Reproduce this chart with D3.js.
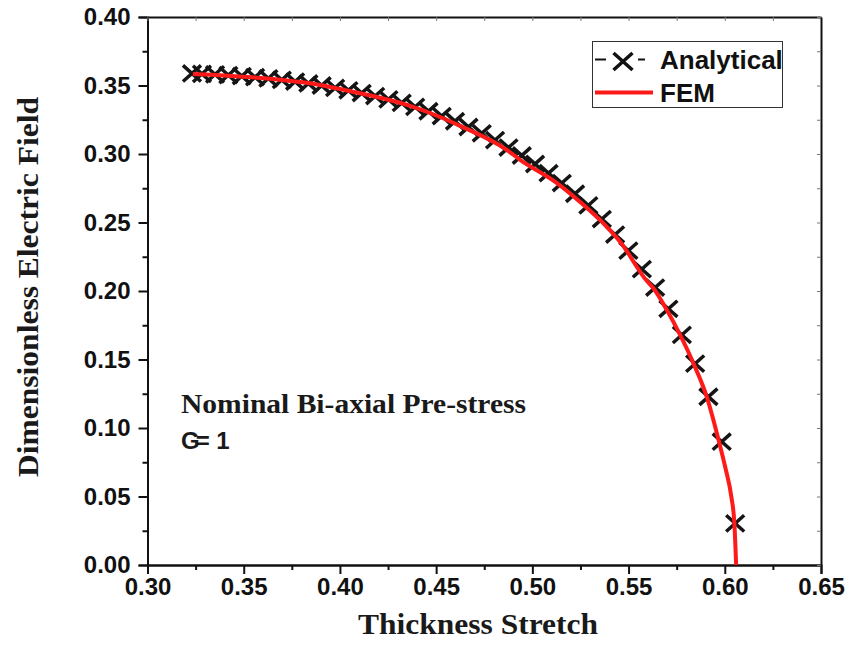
<!DOCTYPE html>
<html>
<head>
<meta charset="utf-8">
<script src="https://cdn.jsdelivr.net/npm/d3@7"></script>
<style>
  html, body { margin: 0; padding: 0; background: #fff; }
  #chart { width: 850px; height: 646px; }
  .tick text { font-family: "Liberation Sans", Arial, sans-serif; font-weight: bold; fill: #111; }
</style>
</head>
<body>
<div id="chart"></div>
<script>
// tick values
const xTickValues = [0.30, 0.35, 0.40, 0.45, 0.50, 0.55, 0.60, 0.65];
const yTickValues = [0.00, 0.05, 0.10, 0.15, 0.20, 0.25, 0.30, 0.35, 0.40];
const xMinorValues = [0.325, 0.375, 0.425, 0.475, 0.525, 0.575, 0.625];
const yMinorValues = [0.025, 0.075, 0.125, 0.175, 0.225, 0.275, 0.325, 0.375];

// Analytical (X markers)
const analyticalStretch = [
  0.3231, 0.3283, 0.3351, 0.3420, 0.3490, 0.3559, 0.3628, 0.3698, 0.3767, 0.3836,
  0.3905, 0.3975, 0.4044, 0.4113, 0.4183, 0.4252, 0.4321, 0.4391, 0.4460, 0.4529,
  0.4598, 0.4668, 0.4737, 0.4806, 0.4876, 0.4945, 0.5014, 0.5084, 0.5153, 0.5222,
  0.5291, 0.5361, 0.5430, 0.5499, 0.5569, 0.5638, 0.5707, 0.5777, 0.5846, 0.5915,
  0.5984, 0.6054
];
const analyticalField = [
  0.3588, 0.3585, 0.3581, 0.3576, 0.3569, 0.3561, 0.3552, 0.3541, 0.3529, 0.3515,
  0.3500, 0.3483, 0.3465, 0.3445, 0.3423, 0.3399, 0.3373, 0.3344, 0.3312, 0.3277,
  0.3239, 0.3197, 0.3151, 0.3101, 0.3047, 0.2989, 0.2927, 0.2860, 0.2788, 0.2710,
  0.2625, 0.2525, 0.2412, 0.2295, 0.2160, 0.2025, 0.1870, 0.1680, 0.1470, 0.1228,
  0.0900, 0.0304
];

// FEM (red line)
const femStretch = [
  0.3236, 0.3652, 0.3896, 0.4000, 0.4349, 0.4520, 0.4624, 0.4868, 0.4936, 0.5128,
  0.5248, 0.5388, 0.5456, 0.5591, 0.5629, 0.5699, 0.5768, 0.5837, 0.5906, 0.5970,
  0.6003, 0.6034, 0.6050, 0.6059
];
const femField = [
  0.3584, 0.3547, 0.3504, 0.3474, 0.3358, 0.3270, 0.3205, 0.3029, 0.2958, 0.2788,
  0.2650, 0.2467, 0.2360, 0.2080, 0.2020, 0.1861, 0.1679, 0.1472, 0.1229, 0.0900,
  0.0710, 0.0499, 0.0300, 0.0000
];

const width = 850, height = 646;
const margin = { top: 17, right: 29, bottom: 81, left: 147.5 };
const innerWidth = width - margin.left - margin.right;
const innerHeight = height - margin.top - margin.bottom;

const svg = d3.select("#chart").append("svg")
  .attr("width", width).attr("height", height)
  .style("background", "#fff");

const chartArea = svg.append("g").attr("transform", `translate(${margin.left},${margin.top})`);

const x = d3.scaleLinear().domain([0.30, 0.65]).range([0, innerWidth]);
const y = d3.scaleLinear().domain([0, 0.40]).range([innerHeight, 0]);

const fmt = d3.format(".2f");

// bottom axis
const xAxisG = chartArea.append("g").attr("transform", `translate(0,${innerHeight})`)
  .call(d3.axisBottom(x).tickValues(xTickValues).tickFormat(fmt).tickSize(9).tickPadding(4));
chartArea.append("g").attr("transform", `translate(0,${innerHeight})`)
  .call(d3.axisBottom(x).tickValues(xMinorValues).tickFormat("").tickSize(5).tickSizeOuter(0));

// left axis
const yAxisG = chartArea.append("g")
  .call(d3.axisLeft(y).tickValues(yTickValues).tickFormat(fmt).tickSize(9).tickPadding(8));
chartArea.append("g")
  .call(d3.axisLeft(y).tickValues(yMinorValues).tickFormat("").tickSize(5).tickSizeOuter(0));

// top and right axes, small inner ticks
const topAxis = chartArea.append("g")
  .call(d3.axisBottom(x).tickValues(xTickValues.concat(xMinorValues)).tickFormat("").tickSize(4).tickSizeOuter(0));
const rightAxis = chartArea.append("g").attr("transform", `translate(${innerWidth},0)`)
  .call(d3.axisLeft(y).tickValues(yTickValues.concat(yMinorValues)).tickFormat("").tickSize(4).tickSizeOuter(0));
topAxis.selectAll(".tick line").attr("stroke", "#777").attr("stroke-width", 1);
rightAxis.selectAll(".tick line").attr("stroke", "#777").attr("stroke-width", 1);

chartArea.selectAll(".domain").attr("stroke", "#111").attr("stroke-width", 2);
chartArea.selectAll("g > .tick line").filter(function () { return !this.getAttribute("stroke") || this.getAttribute("stroke") === "currentColor"; })
  .attr("stroke", "#111").attr("stroke-width", 2);
xAxisG.selectAll(".tick text").style("font-size", "24px");
yAxisG.selectAll(".tick text").style("font-size", "24px");

// Analytical X markers
const xMark = (cx, cy, r) => `M${cx - r},${cy - r * 0.9}L${cx + r},${cy + r * 0.9}M${cx - r},${cy + r * 0.9}L${cx + r},${cy - r * 0.9}`;
chartArea.selectAll(".mark").data(analyticalStretch).enter().append("path")
  .attr("class", "mark")
  .attr("d", (s, i) => xMark(x(s), y(analyticalField[i]), 9))
  .attr("fill", "none")
  .attr("stroke", "#151515")
  .attr("stroke-width", 3.5);

// FEM curve, drawn over the markers
const femData = femStretch.map((s, i) => ({ s, e: femField[i] }));
chartArea.append("path").datum(femData)
  .attr("fill", "none")
  .attr("stroke", "#ff1a1a")
  .attr("stroke-width", 4)
  .attr("d", d3.line().x(d => x(d.s)).y(d => y(d.e)).curve(d3.curveMonotoneX));

// axis titles
svg.append("text")
  .attr("x", 478).attr("y", 634)
  .attr("text-anchor", "middle")
  .style("font-family", "'Liberation Serif', 'Times New Roman', serif")
  .style("font-weight", "bold").style("font-size", "30px").attr("fill", "#1a1a1a")
  .attr("textLength", 240).attr("lengthAdjust", "spacingAndGlyphs")
  .text("Thickness Stretch");

svg.append("text")
  .attr("transform", "translate(38,287) rotate(-90)")
  .attr("text-anchor", "middle")
  .style("font-family", "'Liberation Serif', 'Times New Roman', serif")
  .style("font-weight", "bold").style("font-size", "30px").attr("fill", "#1a1a1a")
  .attr("textLength", 380).attr("lengthAdjust", "spacingAndGlyphs")
  .text("Dimensionless Electric Field");

// annotation
svg.append("text")
  .attr("x", 181).attr("y", 413)
  .style("font-family", "'Liberation Serif', 'Times New Roman', serif")
  .style("font-weight", "bold").style("font-size", "28px").attr("fill", "#1a1a1a")
  .attr("textLength", 345).attr("lengthAdjust", "spacingAndGlyphs")
  .text("Nominal Bi-axial Pre-stress");
const gLabel = svg.append("text")
  .attr("x", 181).attr("y", 449)
  .style("font-family", "'Liberation Sans', Arial, sans-serif")
  .style("font-weight", "bold").style("font-size", "24px").attr("fill", "#1a1a1a");
gLabel.append("tspan").text("G");
gLabel.append("tspan").attr("dx", -4).text("=");
gLabel.append("tspan").text(" 1");

// legend
const legend = svg.append("g");
legend.append("rect")
  .attr("x", 592.5).attr("y", 41.5).attr("width", 190).attr("height", 66)
  .attr("fill", "#fff").attr("stroke", "#333").attr("stroke-width", 1);
legend.append("line").attr("x1", 595).attr("x2", 606).attr("y1", 59.5).attr("y2", 59.5)
  .attr("stroke", "#111").attr("stroke-width", 2);
legend.append("line").attr("x1", 638).attr("x2", 645).attr("y1", 59.5).attr("y2", 59.5)
  .attr("stroke", "#111").attr("stroke-width", 2);
legend.append("path").attr("d", xMark(623, 61.5, 9.5))
  .attr("fill", "none").attr("stroke", "#111").attr("stroke-width", 3.5);
legend.append("line").attr("x1", 595).attr("x2", 653).attr("y1", 92.5).attr("y2", 92.5)
  .attr("stroke", "#ff1a1a").attr("stroke-width", 4);
legend.append("text").attr("x", 660).attr("y", 68.5)
  .style("font-family", "'Liberation Sans', Arial, sans-serif")
  .style("font-weight", "bold").style("font-size", "26px").attr("fill", "#111")
  .text("Analytical");
legend.append("text").attr("x", 660).attr("y", 101.5)
  .style("font-family", "'Liberation Sans', Arial, sans-serif")
  .style("font-weight", "bold").style("font-size", "26px").attr("fill", "#111")
  .text("FEM");
</script>
</body>
</html>
